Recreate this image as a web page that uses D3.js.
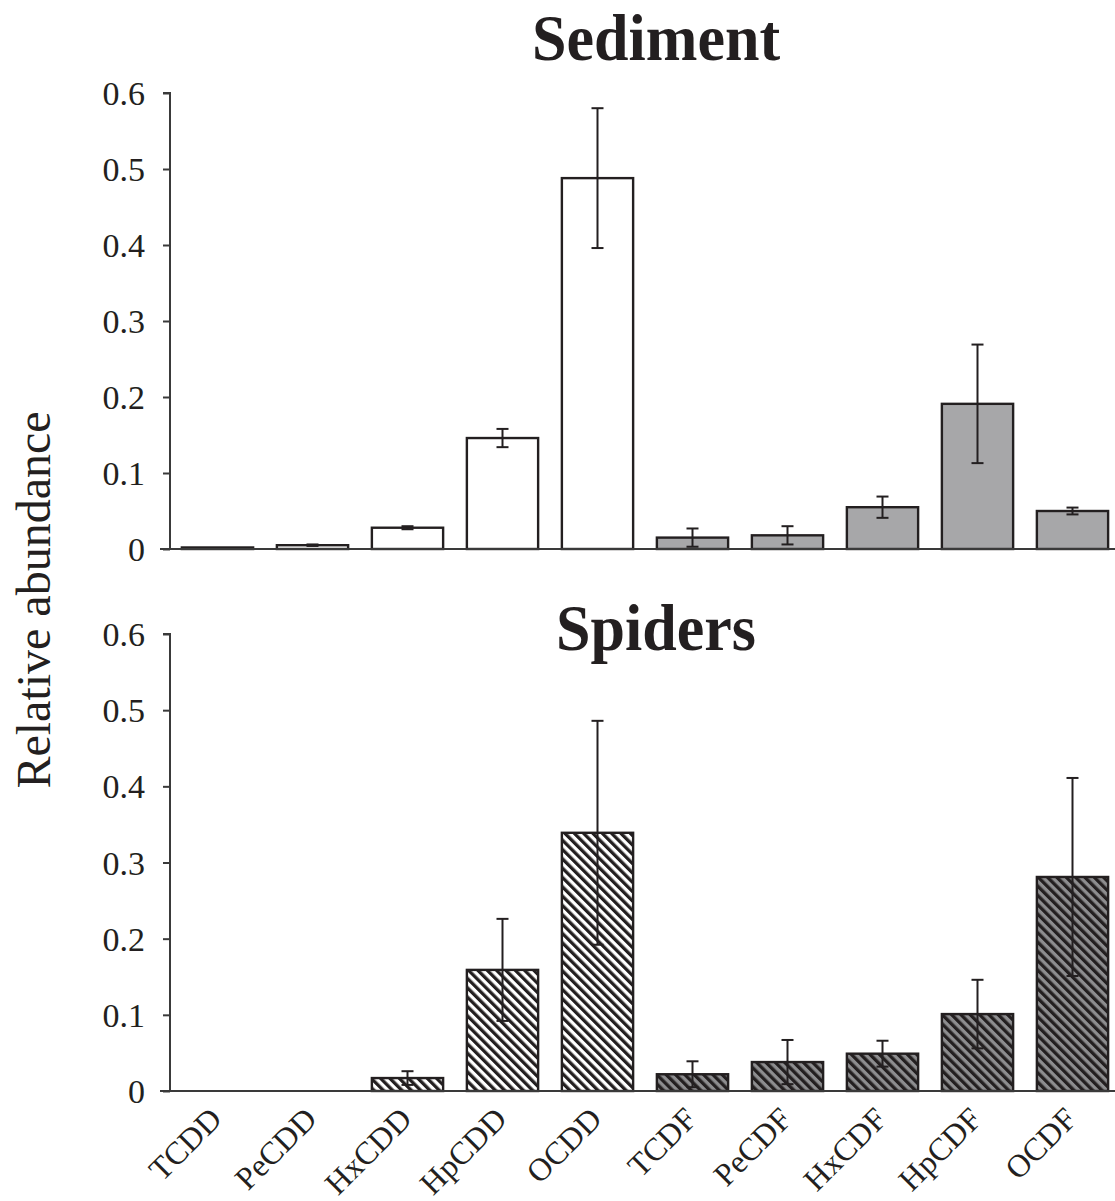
<!DOCTYPE html>
<html>
<head>
  <meta charset="utf-8">
  <script src="https://d3js.org/d3.v7.min.js"></script>
  <style>
    body { margin: 0; background: #fff; }
    text { font-family: "Liberation Serif", "Times New Roman", serif; fill: #231f20; }
  </style>
</head>
<body>
  <svg id="chart" width="1115" height="1201"></svg>
  <script>
    // congeners on the x axis
    const congeners = ["TCDD", "PeCDD", "HxCDD", "HpCDD", "OCDD",
                       "TCDF", "PeCDF", "HxCDF", "HpCDF", "OCDF"];
    const dioxins = ["TCDD", "PeCDD", "HxCDD", "HpCDD", "OCDD"];

    // relative abundance, mean and +/- error
    const sedimentMean = [0.002, 0.005, 0.028, 0.146, 0.488, 0.015, 0.018, 0.055, 0.191, 0.050];
    const sedimentErr  = [0.000, 0.001, 0.002, 0.012, 0.092, 0.012, 0.012, 0.014, 0.078, 0.0045];
    const spiderMean   = [0.000, 0.000, 0.017, 0.159, 0.339, 0.022, 0.038, 0.049, 0.101, 0.281];
    const spiderErr    = [0.000, 0.000, 0.009, 0.067, 0.147, 0.017, 0.029, 0.017, 0.045, 0.130];

    const yTicks = [0, 0.1, 0.2, 0.3, 0.4, 0.5, 0.6];

    const svg = d3.select("#chart");
    const ink = "#231f20";

    // stripe patterns for the spider panel
    const defs = svg.append("defs");
    function stripes(id, back) {
      const p = defs.append("pattern").attr("id", id)
                    .attr("patternUnits", "userSpaceOnUse")
                    .attr("width", 6.6).attr("height", 6.6)
                    .attr("patternTransform", "rotate(-45)");
      p.append("rect").attr("width", 6.6).attr("height", 6.6).attr("fill", back);
      p.append("rect").attr("width", 3.3).attr("height", 6.6).attr("fill", ink);
    }
    stripes("hatchWhite", "#ffffff");
    stripes("hatchGrey", "#8d8d8f");

    const x = d3.scaleBand().domain(congeners)
                .range([170, 1120]).paddingInner(0.25).paddingOuter(0.125);

    const panels = [
      { title: "Sediment", top: 93, bottom: 549, titleY: 60, mean: sedimentMean, err: sedimentErr,
        fill: d => dioxins.includes(d) ? "#ffffff" : "#a7a7a9" },
      { title: "Spiders", top: 634, bottom: 1091, titleY: 650, mean: spiderMean, err: spiderErr,
        fill: d => dioxins.includes(d) ? "url(#hatchWhite)" : "url(#hatchGrey)" }
    ];

    panels.forEach(p => {
      const y = d3.scaleLinear().domain([0, 0.6]).range([p.bottom, p.top]);
      const g = svg.append("g");

      const rows = congeners.map((c, i) => ({ c: c, m: p.mean[i], e: p.err[i] }));

      g.selectAll("rect.bar").data(rows.filter(d => d.m > 0))
        .join("rect").attr("class", "bar")
        .attr("x", d => x(d.c))
        .attr("y", d => y(d.m))
        .attr("width", x.bandwidth())
        .attr("height", d => y(0) - y(d.m))
        .attr("fill", d => p.fill(d.c))
        .attr("stroke", ink).attr("stroke-width", 2.4);

      // error bars, drawn both ways through the bar
      const eb = g.selectAll("g.err").data(rows.filter(d => d.e > 0))
        .join("g").attr("class", "err")
        .attr("stroke", ink).attr("stroke-width", 2);
      const cx = d => x(d.c) + x.bandwidth() / 2;
      eb.append("line").attr("x1", cx).attr("x2", cx)
        .attr("y1", d => y(d.m + d.e)).attr("y2", d => y(Math.max(0, d.m - d.e)));
      eb.append("line").attr("x1", d => cx(d) - 6).attr("x2", d => cx(d) + 6)
        .attr("y1", d => y(d.m + d.e)).attr("y2", d => y(d.m + d.e));
      eb.append("line").attr("x1", d => cx(d) - 6).attr("x2", d => cx(d) + 6)
        .attr("y1", d => y(Math.max(0, d.m - d.e))).attr("y2", d => y(Math.max(0, d.m - d.e)));

      // y axis
      const yAxis = d3.axisLeft(y).tickValues(yTicks)
                      .tickFormat(d => d === 0 ? "0" : d3.format(".1f")(d))
                      .tickSize(7).tickPadding(18);
      const ya = g.append("g").attr("transform", "translate(170,0)").call(yAxis);
      ya.attr("font-family", null).attr("font-size", null);
      ya.select(".domain").attr("d", "M-7," + p.top + "H0V" + p.bottom);
      ya.selectAll("line, path").attr("stroke", "#3a3a3a").attr("stroke-width", 2);
      ya.selectAll("text").style("font-size", "34px").attr("fill", ink).attr("dy", "0.34em");

      // baseline
      g.append("line").attr("x1", 160).attr("x2", 1115)
        .attr("y1", y(0)).attr("y2", y(0))
        .attr("stroke", "#3a3a3a").attr("stroke-width", 2);

      svg.append("text")
        .attr("transform", "translate(656," + p.titleY + ") scale(0.94,1)")
        .attr("text-anchor", "middle")
        .style("font-size", "66px").style("font-weight", "bold")
        .text(p.title);
    });

    // category labels, rotated
    svg.append("g").selectAll("text").data(congeners)
      .join("text")
      .attr("transform", d => "translate(" + (x(d) + x.bandwidth() / 2 + 6) + ",1121) rotate(-45)")
      .attr("text-anchor", "end")
      .style("font-size", "32px")
      .text(d => d);

    svg.append("text")
      .attr("transform", "translate(50,600) rotate(-90)")
      .attr("text-anchor", "middle")
      .style("font-size", "48px")
      .text("Relative abundance");
  </script>
</body>
</html>
